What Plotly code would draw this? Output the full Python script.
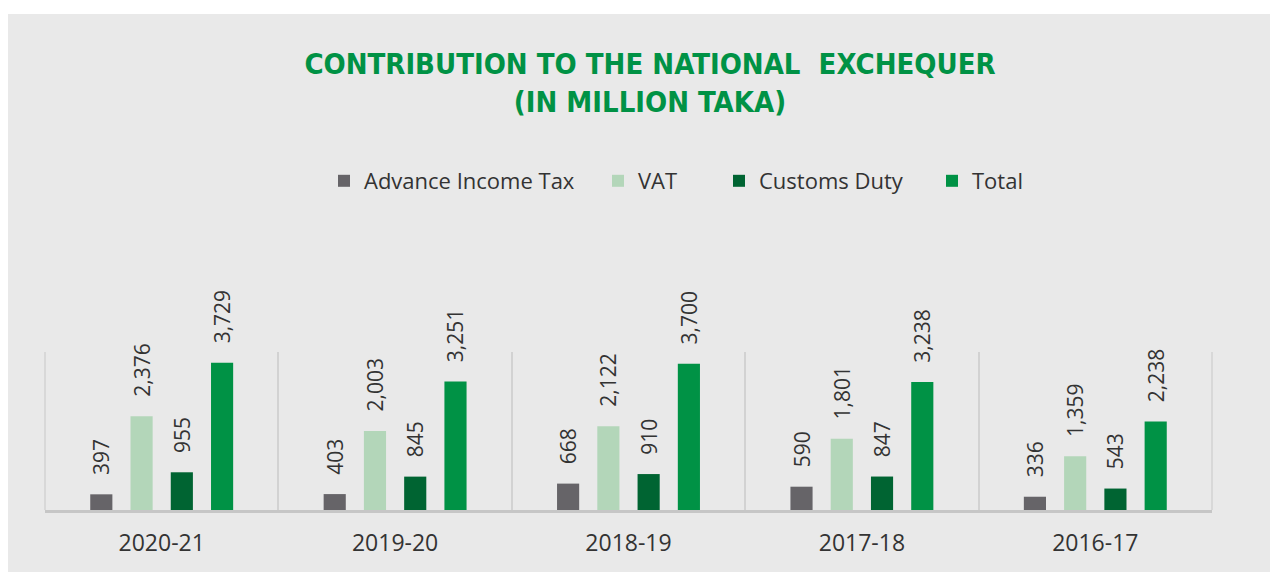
import plotly.graph_objects as go

years = ["2020-21", "2019-20", "2018-19", "2017-18", "2016-17"]
advance_income_tax = [397, 403, 668, 590, 336]
vat = [2376, 2003, 2122, 1801, 1359]
customs_duty = [955, 845, 910, 847, 543]
total = [3729, 3251, 3700, 3238, 2238]

series_names = ["Advance Income Tax", "VAT", "Customs Duty", "Total"]
series_values = [advance_income_tax, vat, customs_duty, total]
series_colors = ["#666468", "#b3d6b9", "#006432", "#009245"]
legend_left_px = [324, 598, 719, 932]

FONT = "Open Sans"
TITLE_FONT = "Liberation Sans Narrow, DejaVu Sans Condensed, Roboto Condensed, Lato"
W, H = 1270, 572
L, R, T, B = 45, 58, 352, 62
pw, ph = W - L - R, H - T - B

fig = go.Figure()
legend_layouts = {}
for i, (name, vals, color) in enumerate(zip(series_names, series_values, series_colors)):
    lname = "legend" if i == 0 else f"legend{i + 1}"
    fig.add_trace(go.Bar(
        x=years, y=vals, name=name, legend=lname, showlegend=True,
        marker=dict(color=color, line=dict(width=0)),
        text=vals,
        texttemplate="\u00a0\u00a0\u00a0%{y:,}",
        textposition="outside",
        textangle=-90,
        constraintext="none",
        cliponaxis=False,
        outsidetextfont=dict(family=FONT, size=21, color="#333333"),
    ))
    legend_layouts[lname] = dict(
        orientation="h",
        x=legend_left_px[i] / W, xref="container", xanchor="left",
        y=(H - 181) / H, yref="container", yanchor="middle",
        font=dict(family=FONT, size=22, color="#333333"),
        bgcolor="rgba(0,0,0,0)",
    )

fig.update_layout(
    width=W, height=H,
    showlegend=True,
    margin=dict(l=L, r=R, t=T, b=B, pad=0),
    paper_bgcolor="white",
    plot_bgcolor="rgba(0,0,0,0)",
    barmode="group",
    bargap=0.31,
    bargroupgap=0.45,
    title=dict(
        text="CONTRIBUTION TO THE NATIONAL  EXCHEQUER<br>(IN MILLION TAKA)",
        font=dict(family=TITLE_FONT, size=29, color="#009245", weight="bold"),
        x=650 / W, xref="container", xanchor="center",
        y=(H - 74) / H, yref="container", yanchor="top",
    ),
    font=dict(family=FONT, color="#333333"),
    shapes=[
        dict(
            type="rect", xref="paper", yref="paper", layer="below",
            x0=(8 - L) / pw, x1=(W + 5 - L) / pw,
            y0=-(B + 5) / ph, y1=(ph + T - 14) / ph,
            fillcolor="#e9e9e9", line=dict(width=0),
        ),
        dict(type="line", xref="paper", yref="paper", x0=0, x1=0, y0=0, y1=1,
             line=dict(color="#d2d2d2", width=1.5), layer="below"),
        dict(type="line", xref="paper", yref="paper", x0=1, x1=1, y0=0, y1=1,
             line=dict(color="#d2d2d2", width=1.5), layer="below"),
    ],
    **legend_layouts,
)

fig.update_xaxes(
    type="category",
    tickson="boundaries",
    showgrid=True, gridcolor="#d2d2d2", gridwidth=1.5,
    showline=True, linecolor="#c6c6c6", linewidth=2.5,
    ticks="", ticklabelstandoff=11,
    tickfont=dict(family=FONT, size=23, color="#333333"),
    zeroline=False,
)
fig.update_yaxes(
    range=[0, 4000], visible=False, showgrid=False, zeroline=False,
)

fig.write_html("out.html", config={"displayModeBar": False},
               post_script="document.body.style.margin='0';")
